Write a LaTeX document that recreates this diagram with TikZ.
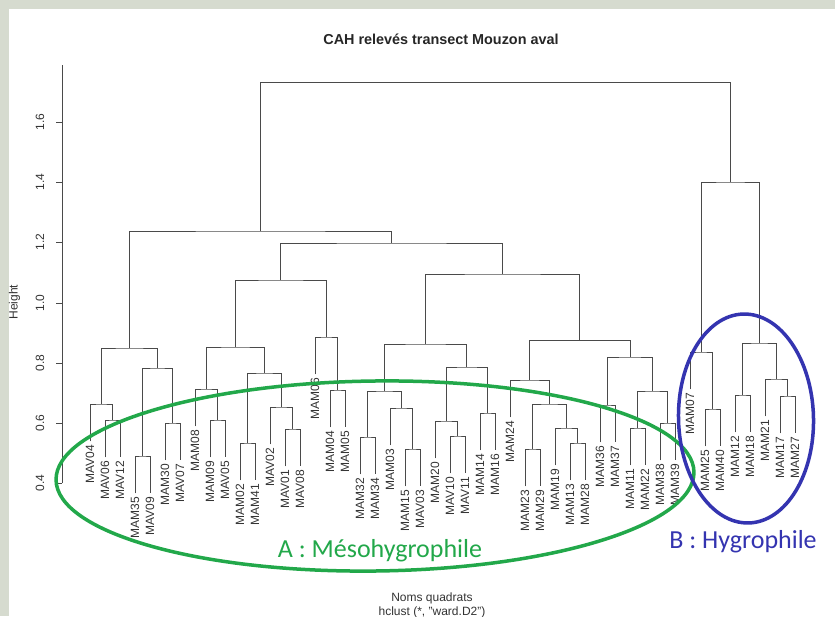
\documentclass[tikz,border=0pt]{standalone}
\usepackage{fontspec}
\setmainfont{Liberation Sans}
\newfontfamily\annfont{Carlito}
\usetikzlibrary{calc}
\definecolor{bgtex}{HTML}{D6DBCF}
\definecolor{dgreen}{HTML}{22A84A}
\definecolor{dblue}{HTML}{3434B0}
\definecolor{lineg}{HTML}{4A4A4A}
\definecolor{txt}{HTML}{333333}
% leaf: name, x, parent y
\newcommand\lf[3]{\coordinate (#1) at (#2,#3+37.3);
  \node[lbl] (t#1) at (#2,#3+40.8) {#1};}
% merge: name, child1, child2, y
\newcommand\mg[4]{\path let \p1=(#2), \p2=(#3) in coordinate (#1) at ({0.5*\x1+0.5*\x2},{-#4pt});
  \draw[dl] (#2) |- (#1) -| (#3);}
\begin{document}
\begin{tikzpicture}[x=1pt,y=-1pt,
  dl/.style={draw=lineg, line width=0.8pt},
  lbl/.style={rotate=90, anchor=east, inner sep=0pt, text=txt, font=\fontsize{12}{12}\selectfont},
  axlbl/.style={rotate=90, anchor=base, inner sep=0pt, text=txt, font=\fontsize{12}{12}\selectfont},
  plain/.style={anchor=base, inner sep=0pt, text=txt, font=\fontsize{12}{12}\selectfont},
  ann/.style={anchor=base, inner sep=0pt, font=\annfont\fontsize{26}{26}\selectfont}]
\useasboundingbox (0,0) rectangle (835,616);
\fill[bgtex] (0,0) rectangle (835,616);
\fill[white] (9,9) rectangle (835,616);

\node[anchor=base, inner sep=0pt, text=black!85, font=\bfseries\fontsize{14.4}{14.4}\selectfont] (title) at (441,44) {CAH relevés transect Mouzon aval};

% axis
\coordinate (axtop) at (62,65);
\coordinate (axbot) at (62,483);
\draw[dl] (axtop) -- (axbot);
\foreach \v/\y [count=\i] in {0.4/483,0.6/423,0.8/363,1.0/303,1.2/242,1.4/182,1.6/122}{
  \coordinate (tick\i) at (62,\y);
  \draw[dl] (tick\i) -- ++(-6,0);
  \node[axlbl] (tl\i) at (44,\y) {\v};
}
\node[axlbl] (ylab) at (17.5,302) {Height};

% leaves
\lf{MAV04}{90}{404}
\lf{MAV06}{105}{420}
\lf{MAV12}{120}{420}
\lf{MAM35}{135}{456}
\lf{MAV09}{150}{456}
\lf{MAM30}{165}{423}
\lf{MAV07}{180}{423}
\lf{MAM08}{195}{389}
\lf{MAM09}{210}{420}
\lf{MAV05}{225}{420}
\lf{MAM02}{240}{443}
\lf{MAM41}{255}{443}
\lf{MAV02}{270}{407}
\lf{MAV01}{285}{429}
\lf{MAV08}{300}{429}
\lf{MAM06}{315}{337}
\lf{MAM04}{330}{390}
\lf{MAM05}{345}{390}
\lf{MAM32}{360}{437}
\lf{MAM34}{375}{437}
\lf{MAM03}{390}{408}
\lf{MAM15}{405}{449}
\lf{MAV03}{420}{449}
\lf{MAM20}{435}{421}
\lf{MAV10}{450}{436}
\lf{MAV11}{465}{436}
\lf{MAM14}{480}{413}
\lf{MAM16}{495}{413}
\lf{MAM24}{510}{380}
\lf{MAM23}{525}{449}
\lf{MAM29}{540}{449}
\lf{MAM19}{555}{428}
\lf{MAM13}{570}{443}
\lf{MAM28}{585}{443}
\lf{MAM36}{600}{405}
\lf{MAM37}{615}{405}
\lf{MAM11}{630}{428}
\lf{MAM22}{645}{428}
\lf{MAM38}{660}{423}
\lf{MAM39}{675}{423}
\lf{MAM07}{690}{352}
\lf{MAM25}{705}{409}
\lf{MAM40}{720}{409}
\lf{MAM12}{735}{395}
\lf{MAM18}{750}{395}
\lf{MAM21}{765}{379}
\lf{MAM17}{780}{396}
\lf{MAM27}{795}{396}

% merges
\mg{A1}{MAV06}{MAV12}{420}
\mg{A2}{MAV04}{A1}{404}
\mg{A3}{MAM35}{MAV09}{456}
\mg{A4}{MAM30}{MAV07}{423}
\mg{A5}{A3}{A4}{368}
\mg{A6}{A2}{A5}{348}
\mg{B1}{MAM09}{MAV05}{420}
\mg{B2}{MAM08}{B1}{389}
\mg{B3}{MAM02}{MAM41}{443}
\mg{B4}{MAV01}{MAV08}{429}
\mg{B5}{MAV02}{B4}{407}
\mg{B6}{B3}{B5}{373}
\mg{B7}{B2}{B6}{347}
\mg{C1}{MAM04}{MAM05}{390}
\mg{C2}{MAM06}{C1}{337}
\mg{B8}{B7}{C2}{280}
\mg{D1}{MAM32}{MAM34}{437}
\mg{D2}{MAM15}{MAV03}{449}
\mg{D3}{MAM03}{D2}{408}
\mg{D4}{D1}{D3}{391}
\mg{D5}{MAV10}{MAV11}{436}
\mg{D6}{MAM20}{D5}{421}
\mg{D7}{MAM14}{MAM16}{413}
\mg{D8}{D6}{D7}{367}
\mg{D9}{D4}{D8}{344}
\mg{E1}{MAM23}{MAM29}{449}
\mg{E2}{MAM13}{MAM28}{443}
\mg{E3}{MAM19}{E2}{428}
\mg{E4}{E1}{E3}{404}
\mg{E5}{MAM24}{E4}{380}
\mg{F1}{MAM36}{MAM37}{405}
\mg{F2}{MAM11}{MAM22}{428}
\mg{F3}{MAM38}{MAM39}{423}
\mg{F4}{F2}{F3}{391}
\mg{F5}{F1}{F4}{357}
\mg{E6}{E5}{F5}{340.5}
\mg{D10}{D9}{E6}{274}
\mg{B9}{B8}{D10}{243}
\mg{A7}{A6}{B9}{231}
\mg{G1}{MAM25}{MAM40}{409}
\mg{G2}{MAM07}{G1}{352}
\mg{H1}{MAM12}{MAM18}{395}
\mg{H2}{MAM17}{MAM27}{396}
\mg{H3}{MAM21}{H2}{379}
\mg{H4}{H1}{H3}{343}
\mg{G3}{G2}{H4}{182}
\mg{R}{A7}{G3}{82.7}

% x axis titles
\node[plain] (xlab) at (432,601) {Noms quadrats};
\node[plain] (sub) at (432,615) {hclust (*, "ward.D2")};

% annotations
\draw[dgreen, line width=3.5pt, rotate around={0.7:(375,476)}] (375,476) ellipse [x radius=319, y radius=95];
\draw[dblue, line width=3.5pt, rotate around={1.5:(746,418.5)}] (746,418.5) ellipse [x radius=67.5, y radius=104.5];
\node[ann, text=dgreen] (lA) at (380,557) {A : Mésohygrophile};
\node[ann, text=dblue] (lB) at (743,548) {B : Hygrophile};
\end{tikzpicture}
\end{document}
